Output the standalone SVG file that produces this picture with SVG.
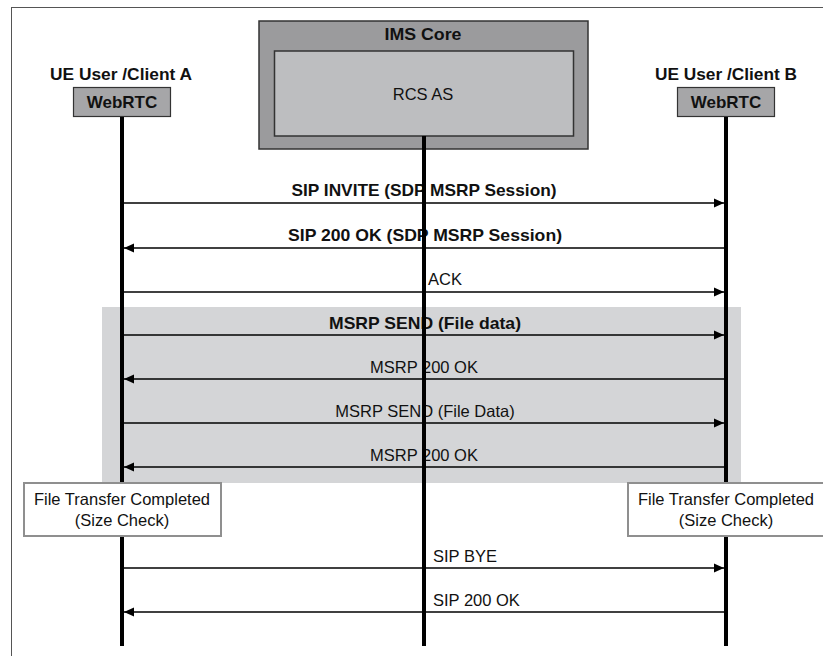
<svg xmlns="http://www.w3.org/2000/svg" width="823" height="656" viewBox="0 0 823 656">
<defs>
<style>
.t{font-family:"Liberation Sans",Arial,sans-serif;font-size:16.5px;fill:#111}
.b{font-weight:bold;font-size:17px}
.msg{stroke:#000;stroke-width:1.4;fill:none}
.life{stroke:#000;stroke-width:4}
.note{fill:#fff;stroke:#8f8f8f;stroke-width:2}
</style>
<marker id="ah" viewBox="0 0 10 10" refX="10" refY="5" markerWidth="10" markerHeight="10" markerUnits="userSpaceOnUse" orient="auto">
<path d="M0,0.5 L10,5 L0,9.5 Z" fill="#000"/>
</marker>
</defs>
<rect x="0" y="0" width="823" height="656" fill="#fff"/>
<rect x="11.5" y="7.5" width="830" height="670" fill="none" stroke="#555" stroke-width="1"/>
<g id="ims-core">
<rect x="259" y="21" width="329" height="128" fill="#9b9b9d" stroke="#333" stroke-width="1.5"/>
<text class="t b" x="423" y="40" text-anchor="middle" textLength="77" lengthAdjust="spacingAndGlyphs">IMS Core</text>
</g>
<g id="rcs-as">
<rect x="274.5" y="51" width="299" height="85" fill="#bdbec0" stroke="#333" stroke-width="1.5"/>
<text class="t" x="423" y="100" text-anchor="middle">RCS AS</text>
</g>
<g id="client-a">
<text class="t b" x="121" y="80" text-anchor="middle" textLength="142" lengthAdjust="spacingAndGlyphs">UE User /Client A</text>
<rect x="73.5" y="87.5" width="97" height="29" fill="#a6a6a8" stroke="#333" stroke-width="1.2"/>
<text class="t b" x="122" y="108" text-anchor="middle">WebRTC</text>
</g>
<g id="client-b">
<text class="t b" x="726" y="80" text-anchor="middle" textLength="142" lengthAdjust="spacingAndGlyphs">UE User /Client B</text>
<rect x="677.5" y="87.5" width="97" height="29" fill="#a6a6a8" stroke="#333" stroke-width="1.2"/>
<text class="t b" x="726" y="108" text-anchor="middle">WebRTC</text>
</g>
<g id="msrp-region">
<rect x="102" y="307" width="639" height="176" fill="#d4d5d7"/>
</g>
<g id="connectors">
<line class="msg" x1="124" y1="203" x2="724" y2="203" marker-end="url(#ah)"/>
<text class="t b" x="424" y="196" text-anchor="middle" textLength="265" lengthAdjust="spacingAndGlyphs">SIP INVITE (SDP MSRP Session)</text>
<line class="msg" x1="724" y1="248" x2="124" y2="248" marker-end="url(#ah)"/>
<text class="t b" x="425" y="241" text-anchor="middle" textLength="274" lengthAdjust="spacingAndGlyphs">SIP 200 OK (SDP MSRP Session)</text>
<line class="msg" x1="124" y1="292" x2="724" y2="292" marker-end="url(#ah)"/>
<text class="t" x="428" y="285">ACK</text>
<line class="msg" x1="124" y1="335" x2="724" y2="335" marker-end="url(#ah)"/>
<text class="t b" x="425" y="329" text-anchor="middle" textLength="192" lengthAdjust="spacingAndGlyphs">MSRP SEND (File data)</text>
<line class="msg" x1="724" y1="379" x2="124" y2="379" marker-end="url(#ah)"/>
<text class="t" x="424" y="373" text-anchor="middle">MSRP 200 OK</text>
<line class="msg" x1="124" y1="423" x2="724" y2="423" marker-end="url(#ah)"/>
<text class="t" x="425" y="417" text-anchor="middle">MSRP SEND (File Data)</text>
<line class="msg" x1="724" y1="467" x2="124" y2="467" marker-end="url(#ah)"/>
<text class="t" x="424" y="461" text-anchor="middle">MSRP 200 OK</text>
<line class="msg" x1="124" y1="568" x2="724" y2="568" marker-end="url(#ah)"/>
<text class="t" x="433" y="562">SIP BYE</text>
<line class="msg" x1="724" y1="612" x2="124" y2="612" marker-end="url(#ah)"/>
<text class="t" x="433" y="606">SIP 200 OK</text>
</g>
<g id="lifelines">
<line class="life" x1="122" y1="117" x2="122" y2="646"/>
<line class="life" x1="424" y1="136" x2="424" y2="646"/>
<line class="life" x1="726" y1="117" x2="726" y2="646"/>
</g>
<g id="note-a">
<rect class="note" x="24" y="483" width="197" height="53"/>
<text class="t" x="122" y="505" text-anchor="middle">File Transfer Completed</text>
<text class="t" x="122" y="526" text-anchor="middle">(Size Check)</text>
</g>
<g id="note-b">
<rect class="note" x="628" y="483" width="196" height="53"/>
<text class="t" x="726" y="505" text-anchor="middle">File Transfer Completed</text>
<text class="t" x="726" y="526" text-anchor="middle">(Size Check)</text>
</g>
</svg>
